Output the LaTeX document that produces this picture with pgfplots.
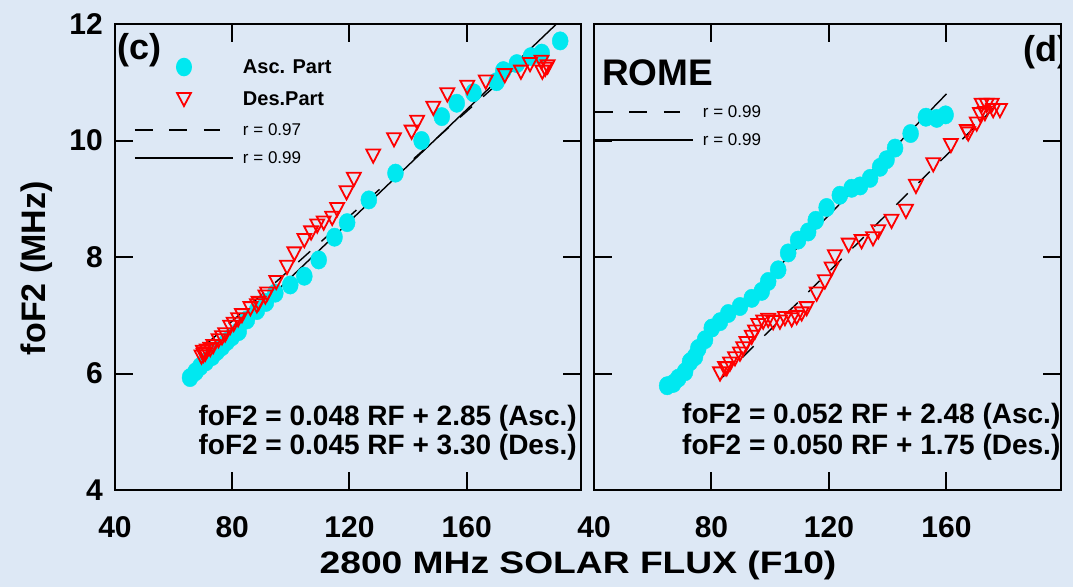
\documentclass[border=0pt]{standalone}
\usepackage{graphicx}
\usepackage{pgfplots}
\pgfplotsset{compat=1.18}
\usepackage{pgfplotstable}
\usepackage{fontspec}
\setmainfont{Liberation Sans}
\definecolor{bgc}{RGB}{221,232,245}
\definecolor{cyanc}{RGB}{0,232,240}
\definecolor{redc}{RGB}{255,0,0}

\pgfplotstableread{
F f
65.6 5.93
67.5 6.03
69.1 6.12
71.0 6.20
73.1 6.29
74.8 6.38
76.5 6.46
78.2 6.55
79.9 6.63
82.2 6.72
85.0 6.92
88.4 7.08
91.5 7.22
94.7 7.38
99.8 7.52
104.6 7.67
109.5 7.95
114.9 8.34
119.2 8.59
126.6 8.98
135.7 9.44
144.6 10.00
151.5 10.41
156.6 10.64
162.3 10.82
170.2 11.01
172.5 11.20
177.1 11.32
181.9 11.44
185.6 11.50
191.9 11.71
}\ascC

\pgfplotstableread{
F f
69.5 6.32
70.0 6.40
70.2 6.35
70.8 6.37
71.3 6.42
72.5 6.45
73.5 6.50
75.3 6.60
76.5 6.65
77.6 6.70
79.3 6.83
80.5 6.88
82.0 6.96
83.3 7.03
86.2 7.15
88.4 7.20
89.0 7.24
91.3 7.35
91.9 7.40
95.0 7.60
98.7 7.86
101.2 8.09
104.6 8.32
106.9 8.45
109.0 8.57
111.2 8.62
114.1 8.70
115.8 8.85
119.0 9.14
121.5 9.37
128.1 9.77
135.2 10.05
141.2 10.18
143.1 10.35
148.6 10.59
153.4 10.82
160.2 10.95
166.5 11.04
173.0 11.15
178.5 11.21
181.6 11.34
185.5 11.38
185.8 11.21
186.8 11.26
187.6 11.30
}\desC

\pgfplotstableread{
F f
64.9 5.79
67.0 5.83
68.7 5.92
71.0 6.03
72.7 6.20
74.4 6.29
75.5 6.43
77.8 6.58
80.1 6.78
82.9 6.89
85.7 7.03
89.7 7.15
93.7 7.29
97.1 7.41
99.3 7.58
102.7 7.78
106.1 8.07
109.5 8.29
112.9 8.43
115.5 8.63
119.2 8.85
123.7 9.06
127.7 9.18
130.6 9.22
134.0 9.35
137.4 9.54
139.6 9.67
142.5 9.87
147.8 10.12
153.0 10.40
156.7 10.38
159.7 10.44
}\ascD

\pgfplotstableread{
F f
82.9 6.03
84.6 6.12
85.2 6.12
86.3 6.20
88.0 6.29
89.7 6.37
90.8 6.46
91.9 6.55
93.7 6.66
94.8 6.75
95.9 6.86
97.6 6.92
99.3 6.95
101.0 6.91
103.3 6.92
105.0 6.98
107.3 6.96
109.0 7.00
110.7 7.06
112.4 7.15
115.8 7.40
118.6 7.61
120.9 7.83
122.0 8.04
126.7 8.24
131.1 8.30
135.0 8.35
136.8 8.47
141.3 8.65
146.2 8.82
149.6 9.25
155.5 9.62
161.5 9.95
166.9 10.19
167.4 10.15
170.3 10.32
171.4 10.48
172.0 10.64
173.7 10.64
175.4 10.64
173.1 10.50
175.9 10.55
178.2 10.55
}\desD

\pgfplotsset{
  panel/.style={
    scale only axis, height=466pt,
    xmin=40, xmax=199, ymin=4, ymax=12,
    xtick={40,80,120,160}, ytick={4,6,8,10,12},
    xticklabels={40,80,120,160},
    tick align=inside, major tick length=18pt,
    axis line style={line width=2pt},
    major tick style={line width=2pt, black},
    tick label style={font=\fontsize{30}{36}\selectfont\bfseries},
    /pgf/number format/assume math mode=true,
    xticklabel style={anchor=center, yshift=-37pt, inner sep=0pt},
    yticklabel style={anchor=east, inner sep=0pt, xshift=-12pt},
    legend cell align=left,
  },
  ascstyle/.style={only marks, mark=*, mark size=8pt, color=cyanc,
    mark options={fill=cyanc, draw=cyanc, yscale=1.15}},
  desstyle/.style={only marks, mark=triangle, mark size=8pt, color=redc,
    mark options={rotate=180, line width=1.8pt, fill=none, draw=redc, yscale=1.1}},
  regsolid/.style={black, line width=1.4pt, no marks},
  regdash/.style={black, line width=1.4pt, no marks, dash pattern=on 16pt off 15pt},
}

\begin{document}
\begin{tikzpicture}
\fill[bgc] (0pt,0pt) rectangle (1073pt,587pt);
\useasboundingbox (0pt,0pt) rectangle (1073pt,587pt);

% ---------------- left panel (c)
\begin{axis}[panel, width=466pt,
  at={(115pt,97pt)}, anchor=south west,
  yticklabels={4,6,8,10,12},
  xlabel={\scalebox{1.2}[1]{2800 MHz SOLAR FLUX (F10)}},
  xlabel style={at={(axis description cs:0.9936,-0.163)}, anchor=center,
    font=\fontsize{31}{36}\selectfont\bfseries, inner sep=0pt},
  ylabel={foF2 (MHz)},
  ylabel style={at={(axis description cs:-0.167,0.476)}, anchor=center,
    font=\fontsize{34}{40}\selectfont\bfseries, inner sep=0pt},
  legend style={at={(axis description cs:0.0429,0.942)}, anchor=north west,
    draw=none, fill=none, inner sep=0pt, outer sep=0pt,
    row sep=0pt, column sep=10pt, nodes={inner sep=0pt, outer sep=0pt}},
]
\addplot[ascstyle, legend image code/.code={
    \path[draw=none, fill=none] (0pt,-16pt) rectangle (98pt,16pt);
    \fill[overlay, cyanc, draw=none] (49pt,0pt) ellipse (8pt and 9.3pt);}]
  table[x=F, y=f] {\ascC};
\addlegendentry{\fontsize{20}{24}\selectfont\bfseries Asc. Part}
\addplot[desstyle, legend image code/.code={
    \path[draw=none, fill=none] (0pt,-15pt) rectangle (98pt,16pt);
    \draw[overlay, redc, fill=none, line width=1.8pt] (42.1pt,6pt) -- (55.9pt,6pt) -- (49pt,-7pt) -- cycle;}]
  table[x=F, y=f] {\desC};
\addlegendentry{\fontsize{20}{24}\selectfont\bfseries Des.Part}
\addplot[regdash, legend image code/.code={
    \path[draw=none, fill=none] (0pt,-14pt) rectangle (98pt,16pt);
    \draw[overlay, black, fill=none, line width=1.3pt, dash pattern=on 18pt off 16.5pt] (0pt,0pt) -- (85pt,0pt);}]
  coordinates {(71,6.495) (186,11.67)};
\addlegendentry{\fontsize{17}{20}\selectfont r = 0.97}
\addplot[regsolid, legend image code/.code={
    \path[draw=none, fill=none] (0pt,-14pt) rectangle (98pt,14pt);
    \draw[overlay, black, fill=none, line width=1.3pt] (0pt,0pt) -- (98pt,0pt);}]
  coordinates {(65.5,5.994) (191,12.018)};
\addlegendentry{\fontsize{17}{20}\selectfont r = 0.99}

\node[anchor=west, inner sep=0pt, font=\fontsize{36}{40}\selectfont\bfseries]
  at (axis description cs:0.0043,0.944) {(c)};
\node[anchor=east, inner sep=0pt, font=\fontsize{28}{32}\selectfont\bfseries]
  at (axis description cs:0.9914,0.1545) {foF2 = 0.048 RF + 2.85 (Asc.)};
\node[anchor=east, inner sep=0pt, font=\fontsize{28}{32}\selectfont\bfseries]
  at (axis description cs:0.9914,0.0923) {foF2 = 0.045 RF + 3.30 (Des.)};
\end{axis}

% ---------------- right panel (d)
\begin{axis}[panel, width=467pt,
  at={(594pt,97pt)}, anchor=south west,
  yticklabels={},
  legend style={at={(axis description cs:0.002,0.841)}, anchor=north west,
    draw=none, fill=none, inner sep=0pt, outer sep=0pt,
    row sep=0pt, column sep=10pt, nodes={inner sep=0pt, outer sep=0pt}},
]
\addplot[ascstyle, forget plot] table[x=F, y=f] {\ascD};
\addplot[desstyle, forget plot] table[x=F, y=f] {\desD};
\addplot[regdash, legend image code/.code={
    \path[draw=none, fill=none] (0pt,-14pt) rectangle (98pt,14pt);
    \draw[overlay, black, fill=none, line width=1.3pt, dash pattern=on 18pt off 16.5pt] (0pt,0pt) -- (85pt,0pt);}]
  coordinates {(83,5.90) (176.5,10.575)};
\addlegendentry{\fontsize{17}{20}\selectfont r = 0.99}
\addplot[regsolid, legend image code/.code={
    \path[draw=none, fill=none] (0pt,-15pt) rectangle (98pt,14pt);
    \draw[overlay, black, fill=none, line width=1.3pt] (0pt,0pt) -- (98pt,0pt);}]
  coordinates {(65,5.86) (160,10.80)};
\addlegendentry{\fontsize{17}{20}\selectfont r = 0.99}

\node[anchor=west, inner sep=0pt, font=\fontsize{37}{40}\selectfont\bfseries]
  at (axis description cs:0.017,0.895) {ROME};
\node[anchor=east, inner sep=0pt, font=\fontsize{36}{40}\selectfont\bfseries]
  at (axis description cs:1.019,0.94) {(d)};
\node[anchor=west, inner sep=0pt, font=\fontsize{28}{32}\selectfont\bfseries]
  at (axis description cs:0.1884,0.1588) {foF2 = 0.052 RF + 2.48 (Asc.)};
\node[anchor=west, inner sep=0pt, font=\fontsize{28}{32}\selectfont\bfseries]
  at (axis description cs:0.1884,0.0923) {foF2 = 0.050 RF + 1.75 (Des.)};
\end{axis}
\end{tikzpicture}
\end{document}
